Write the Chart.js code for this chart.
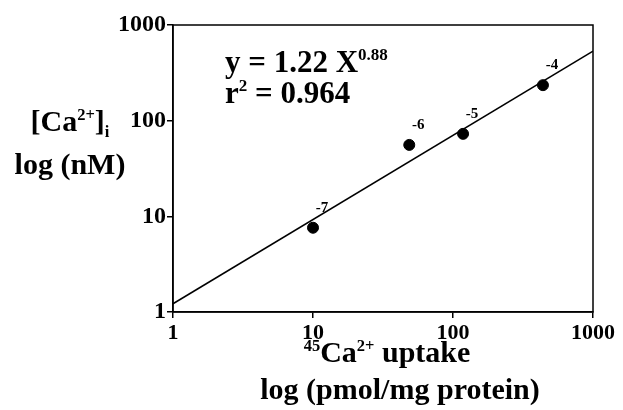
<!DOCTYPE html>
<html>
<head>
<meta charset="utf-8">
<script src="https://cdn.jsdelivr.net/npm/chart.js@4"></script>
<style>
  body { margin: 0; background: #fff; }
  #wrap { width: 623px; height: 410px; }
</style>
</head>
<body>
<div id="wrap"><canvas id="myChart" width="623" height="410"></canvas></div>
<script>
// data
var uptake = [10, 48.7, 118, 439];          // 45Ca2+ uptake (pmol/mg protein)
var calcium = [7.6, 55.8, 72.8, 235];       // [Ca2+]i (nM)
var concLabels = ['-7', '-6', '-5', '-4'];  // log concentration labels
var fitX = [1, 1000];
var fitY = [1.22, 533];                     // y = 1.22 X^0.88 at the ends
var tickValues = [1, 10, 100, 1000];

var FONT = '"Liberation Serif", "Times New Roman", serif';

// draws a line of text made of normal / sup / sub pieces
function drawRich(ctx, parts, x, y, size, align) {
  var total = 0;
  parts.forEach(function (p) {
    var s = p.sup || p.sub ? size * 0.55 : size;
    ctx.font = 'bold ' + s + 'px ' + FONT;
    p.w = ctx.measureText(p.t).width;
    p.s = s;
    total += p.w;
  });
  var cx = align === 'center' ? x - total / 2 : x;
  ctx.textAlign = 'left';
  ctx.textBaseline = 'alphabetic';
  parts.forEach(function (p) {
    ctx.font = 'bold ' + p.s + 'px ' + FONT;
    var dy = p.sup ? -size * 0.38 : (p.sub ? size * 0.2 : 0);
    ctx.fillText(p.t, cx, y + dy);
    cx += p.w;
  });
}

var textPlugin = {
  id: 'texts',
  afterDraw: function (chart) {
    var ctx = chart.ctx;
    var area = chart.chartArea;
    ctx.save();
    ctx.fillStyle = '#000';

    // box round the plot
    ctx.strokeStyle = '#000';
    ctx.lineWidth = 1.5;
    ctx.strokeRect(area.left, area.top, area.right - area.left, area.bottom - area.top);

    // concentration labels beside points
    var meta = chart.getDatasetMeta(0);
    ctx.font = 'bold 15px ' + FONT;
    ctx.textAlign = 'center';
    ctx.textBaseline = 'middle';
    meta.data.forEach(function (pt, i) {
      ctx.fillText(concLabels[i], pt.x + 9, pt.y - 20);
    });

    // equation
    drawRich(ctx, [{ t: 'y = 1.22 X' }, { t: '0.88', sup: true }], 225, 72, 31, 'left');
    drawRich(ctx, [{ t: 'r' }, { t: '2', sup: true }, { t: ' = 0.964' }], 225, 103, 31, 'left');

    // y title
    drawRich(ctx, [{ t: '[Ca' }, { t: '2+', sup: true }, { t: ']' }, { t: 'i', sub: true }], 70, 131, 30, 'center');
    drawRich(ctx, [{ t: 'log (nM)' }], 70, 174, 30, 'center');

    // x title
    drawRich(ctx, [{ t: '45', sup: true }, { t: 'Ca' }, { t: '2+', sup: true }, { t: ' uptake' }], 387, 362, 30, 'center');
    drawRich(ctx, [{ t: 'log (pmol/mg protein)' }], 400, 399, 30, 'center');
    ctx.restore();
  }
};

var ctx = document.getElementById('myChart').getContext('2d');
var chart = new Chart(ctx, {
  type: 'scatter',
  data: {
    datasets: [{
      label: 'data',
      data: uptake.map(function (v, i) { return { x: v, y: calcium[i] }; }),
      backgroundColor: '#000',
      borderColor: '#000',
      pointRadius: 5.5,
      showLine: false
    }, {
      label: 'fit',
      data: fitX.map(function (v, i) { return { x: v, y: fitY[i] }; }),
      borderColor: '#000',
      borderWidth: 1.5,
      pointRadius: 0,
      showLine: true,
      fill: false
    }]
  },
  options: {
    responsive: false,
    animation: false,
    layout: { padding: { left: 0, right: 30, top: 25, bottom: 0 } },
    plugins: { legend: { display: false }, tooltip: { enabled: false } },
    scales: {
      x: {
        type: 'logarithmic',
        min: 1,
        max: 1000,
        afterBuildTicks: function (scale) {
          scale.ticks = tickValues.map(function (v) { return { value: v }; });
        },
        afterFit: function (scale) { scale.height = 98; },
        grid: { drawOnChartArea: false, drawTicks: true, tickLength: 6, color: '#000', lineWidth: 1.5 },
        border: { display: true, color: '#000', width: 1.5 },
        ticks: {
          color: '#000',
          padding: 2,
          maxRotation: 0,
          font: { family: FONT, size: 22, weight: 'bold' },
          callback: function (v) { return String(v); }
        }
      },
      y: {
        type: 'logarithmic',
        min: 1,
        max: 1000,
        afterBuildTicks: function (scale) {
          scale.ticks = tickValues.map(function (v) { return { value: v }; });
        },
        afterFit: function (scale) { scale.width = 173; },
        grid: { drawOnChartArea: false, drawTicks: true, tickLength: 6, color: '#000', lineWidth: 1.5 },
        border: { display: true, color: '#000', width: 1.5 },
        ticks: {
          color: '#000',
          padding: 1,
          font: { family: FONT, size: 24, weight: 'bold' },
          callback: function (v) { return String(v); }
        }
      }
    }
  },
  plugins: [textPlugin]
});
</script>
</body>
</html>
